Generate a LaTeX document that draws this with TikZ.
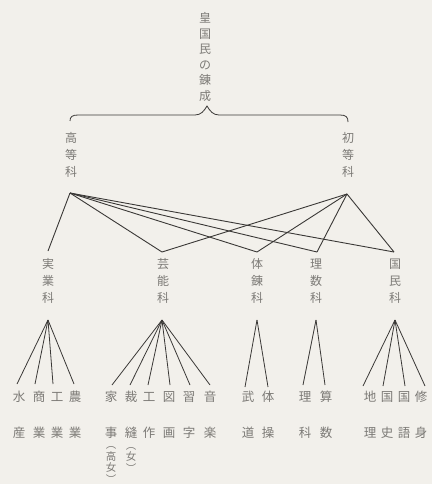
\documentclass[tikz,border=0pt]{standalone}
\usepackage{fontspec}
\newfontfamily\cjk{Noto Sans CJK JP}
\definecolor{bgc}{HTML}{F2F0EB}
\definecolor{txc}{HTML}{7C7A76}
\definecolor{lnc}{HTML}{3A3836}
\begin{document}
\begin{tikzpicture}[x=1pt,y=-1pt,
  vt/.style={font=\cjk\fontsize{12}{15.5}\selectfont, text=txc, align=center, inner sep=0pt},
  mid/.style={font=\cjk\fontsize{12}{17}\selectfont, text=txc, align=center, inner sep=0pt},
  leaf/.style={font=\cjk\fontsize{12.5}{36}\selectfont, text=txc, align=center, inner sep=0pt},
  paren/.style={font=\cjk\fontsize{10.5}{11.5}\selectfont, text=txc, align=center, inner sep=0pt},
  ln/.style={draw=lnc, line width=0.9pt},
  fan/.style={draw=lnc, line width=0.8pt}]
\fill[bgc] (0,0) rectangle (432,484);
\useasboundingbox (0,0) rectangle (432,484);

% title
\node[vt] (top) at (205,57) {皇\\国\\民\\の\\錬\\成};
% brace
\draw[ln, line width=0.8pt] (70,121) .. controls (70,117) and (72,115) .. (78,115) -- (195,115)
  .. controls (201,115) and (204,111) .. (207,106)
  .. controls (210,111) and (213,115) .. (219,115) -- (340,115)
  .. controls (346,115) and (348,117) .. (348,122);

% second level
\node[mid] (koto) at (71,155) {高\\等\\科};
\node[mid] (shoto) at (348,155) {初\\等\\科};
\coordinate (hA) at (70,193);
\coordinate (sA) at (347,194);

% third level
\node[mid] (jitsu) at (48,281) {実\\業\\科};
\node[mid] (gei) at (163,281) {芸\\能\\科};
\node[mid] (tai) at (257,281) {体\\錬\\科};
\node[mid] (ri) at (316,281) {理\\数\\科};
\node[mid] (koku) at (395,281) {国\\民\\科};

\coordinate (m1) at (48,251);
\coordinate (m2) at (162,252);
\coordinate (m3) at (257,252);
\coordinate (m4) at (317,252);
\coordinate (m5) at (394,252);

\foreach \t in {m1,m2,m3,m4,m5} \draw[ln] (hA) -- (\t);
\foreach \t in {m2,m3,m4,m5} \draw[ln] (sA) -- (\t);

% lower apexes
\coordinate (b1) at (48,320);
\coordinate (b2) at (162,320);
\coordinate (b3) at (257,320);
\coordinate (b4) at (316,320);
\coordinate (b5) at (395,320);

% leaves
\node[leaf] (a1) at (19,415) {水\\産};
\node[leaf] (a2) at (39,415) {商\\業};
\node[leaf] (a3) at (57,415) {工\\業};
\node[leaf] (a4) at (75,415) {農\\業};

\node[leaf] (g1) at (111,415) {家\\事};
\node[paren] (g1p) at (111,465) {︵\\高\\女\\︶};
\node[leaf] (g2) at (131,415) {裁\\縫};
\node[paren] (g2p) at (131,460) {︵\\女\\︶};
\node[leaf] (g3) at (149,415) {工\\作};
\node[leaf] (g4) at (169,415) {図\\画};
\node[leaf] (g5) at (189,415) {習\\字};
\node[leaf] (g6) at (210,415) {音\\楽};

\node[leaf] (t1) at (248,415) {武\\道};
\node[leaf] (t2) at (268,415) {体\\操};

\node[leaf] (r1) at (305,415) {理\\科};
\node[leaf] (r2) at (326,415) {算\\数};

\node[leaf] (k1) at (370,415) {地\\理};
\node[leaf] (k2) at (387,415) {国\\史};
\node[leaf] (k3) at (404,415) {国\\語};
\node[leaf] (k4) at (421,415) {修\\身};

\foreach \n/\x in {c1/17,c2/35,c3/53,c4/74} {
  \coordinate (\n) at (\x,384);
  \draw[fan] (b1) -- (\n);
}
\foreach \n/\x in {d1/112,d2/130,d3/148,d4/170,d5/190,d6/210} {
  \coordinate (\n) at (\x,385);
  \draw[fan] (b2) -- (\n);
}
\foreach \n/\x in {e1/245,e2/268} {
  \coordinate (\n) at (\x,387);
  \draw[fan] (b3) -- (\n);
}
\foreach \n/\x in {f1/303,f2/325} {
  \coordinate (\n) at (\x,385);
  \draw[fan] (b4) -- (\n);
}
\foreach \n/\x in {h1/363,h2/383,h3/405,h4/425} {
  \coordinate (\n) at (\x,386);
  \draw[fan] (b5) -- (\n);
}
\end{tikzpicture}
\end{document}
